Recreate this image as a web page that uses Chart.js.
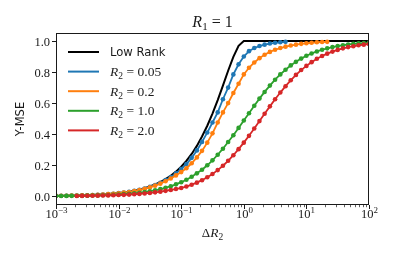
<!DOCTYPE html>
<html><head><meta charset="utf-8">
<script src="https://cdn.jsdelivr.net/npm/chart.js@4.4.1/dist/chart.umd.min.js"></script>
<style>html,body{margin:0;padding:0;background:#fff}#wrap{width:394px;height:256px;position:relative}</style>
</head><body><div id="wrap"><canvas id="c"></canvas></div>
<script>
const deltaR2 = [0.001,0.00121,0.00147,0.00178,0.00215,0.00261,0.00316,0.00383,0.00464,0.00562,0.00681,0.00825,
0.01,0.0121,0.0147,0.0178,0.0215,0.0261,0.0316,0.0383,0.0464,0.0562,0.0681,0.0825,
0.1,0.121,0.147,0.178,0.215,0.261,0.316,0.383,0.464,0.562,0.681,0.825,
1,1.21,1.47,1.78,2.15,2.61,3.16,3.83,4.64,5.62,6.81,8.25,
10,12.1,14.7,17.8,21.5,26.1,31.6,38.3,46.4,56.2,68.1,82.5,100];

const lowRank = [0.002,0.0024,0.0029,0.0036,0.0043,0.0052,0.0063,0.0076,0.0093,0.0112,0.0136,0.0164,
0.0199,0.024,0.029,0.0353,0.0426,0.0515,0.0622,0.0751,0.0907,0.1093,0.1316,0.1582,
0.19,0.2277,0.2721,0.324,0.3844,0.4539,0.5324,0.6194,0.7129,0.8084,0.8984,0.9695,
1,1,1,1,1,1,1,1,1,1,1,1,
1,1,1,1,1,1,1,1,1,1,1,1,1];

const r2_005 = [0.002,0.0024,0.0029,0.0035,0.0042,0.0051,0.0062,0.0075,0.009,0.011,0.0133,0.016,
0.0194,0.0234,0.0283,0.0342,0.0412,0.0497,0.0598,0.0718,0.0862,0.1032,0.1233,0.147,
0.175,0.207,0.247,0.295,0.35,0.41,0.475,0.54,0.625,0.7,0.785,0.85,
0.9,0.935,0.955,0.968,0.977,0.984,0.989,0.992,0.995,null,null,null,
null,null,null,null,null,null,null,null,null,null,null,null,null];

const r2_02 = [0.0019,0.0023,0.0028,0.0034,0.0041,0.0049,0.006,0.0072,0.0087,0.0106,0.0128,0.0155,
0.0187,0.0225,0.0271,0.0327,0.0393,0.0472,0.0566,0.0677,0.0808,0.0962,0.114,0.134,
0.155,0.18,0.212,0.25,0.292,0.345,0.405,0.475,0.54,0.6,0.665,0.725,
0.785,0.828,0.862,0.89,0.912,0.93,0.944,0.955,0.964,0.971,0.977,0.982,
0.986,0.989,0.992,0.994,0.995,null,null,null,null,null,null,null,null];

const r2_10 = [0.0011,0.0013,0.0016,0.0019,0.0023,0.0028,0.0034,0.0041,0.005,0.006,0.0073,0.0088,
0.0106,0.0128,0.0154,0.0185,0.0222,0.0266,0.0318,0.0379,0.0451,0.0536,0.064,0.076,
0.09,0.106,0.125,0.147,0.17,0.199,0.231,0.267,0.306,0.349,0.393,0.44,
0.488,0.535,0.583,0.629,0.672,0.713,0.751,0.785,0.815,0.843,0.866,0.887,
0.905,0.92,0.933,0.944,0.953,0.961,0.968,0.973,0.978,0.982,0.985,0.987,0.99];

const r2_20 = [null,null,null,null,0.0015,0.0018,0.0022,0.0027,0.0033,0.004,0.0048,0.0058,
0.007,0.0084,0.0101,0.0121,0.0145,0.0173,0.0206,0.0245,0.029,0.0343,0.04,0.046,
0.053,0.062,0.074,0.087,0.103,0.122,0.143,0.168,0.196,0.228,0.264,0.303,
0.345,0.389,0.436,0.484,0.531,0.579,0.625,0.668,0.709,0.747,0.782,0.813,
0.84,0.864,0.886,0.904,0.919,0.932,0.943,0.953,0.961,0.967,0.973,0.977,0.981];

const xTickValues = [0.001,0.01,0.1,1,10,100];
const xTickExponents = ['\u22123','\u22122','\u22121','0','1','2'];
const yTickValues = [0,0.2,0.4,0.6,0.8,1.0];
const yTickLabels = ['0.0','0.2','0.4','0.6','0.8','1.0'];
const seriesNames = ['Low Rank','0.05','0.2','1.0','2.0'];
const seriesColors = ['#000000','#1f77b4','#ff7f0e','#2ca02c','#d62728'];
const seriesValues = [lowRank, r2_005, r2_02, r2_10, r2_20];

const SERIF = '"Liberation Serif", "DejaVu Serif", serif';
const SANS = '"DejaVu Sans", sans-serif';
const TXT = '#1a1a1a';

function pts(arr){
  const out=[];
  for(let i=0;i<deltaR2.length;i++){ if(arr[i]!==null) out.push({x:deltaR2[i], y:arr[i]}); }
  return out;
}

const datasets = seriesValues.map((arr,i)=>({
  label: seriesNames[i],
  data: pts(arr),
  borderColor: seriesColors[i],
  backgroundColor: seriesColors[i],
  borderWidth: i===0 ? 2 : 1.8,
  pointRadius: i===0 ? 0 : 2.3,
  pointBorderWidth: 0,
  pointBackgroundColor: seriesColors[i],
  pointHoverRadius: 0,
  tension: 0,
  order: 5 - i
}));

function drawRuns(ctx, runs, x, y, align){
  let w=0;
  runs.forEach(r=>{ctx.font=r.font; w+=ctx.measureText(r.t).width + (r.pad||0)*2;});
  let cx = align==='center' ? x - w/2 : (align==='right' ? x - w : x);
  ctx.textAlign='left';
  ctx.textBaseline='alphabetic';
  runs.forEach(r=>{ctx.font=r.font; cx += (r.pad||0); ctx.fillText(r.t, cx, y + (r.dy||0)); cx += ctx.measureText(r.t).width + (r.pad||0);});
}

const decor = {
  id:'decor',
  afterDraw(chart){
    const ctx = chart.ctx, a = chart.chartArea;
    const xs = chart.scales.x, ys = chart.scales.y;
    ctx.save();
    ctx.fillStyle = TXT; ctx.strokeStyle = TXT;
    // frame
    ctx.lineWidth = 1;
    ctx.strokeRect(Math.round(a.left)+0.5, Math.round(a.top)+0.5, Math.round(a.right-a.left)-1, Math.round(a.bottom-a.top)-1);
    // x major ticks + labels
    xTickValues.forEach((v,i)=>{
      const px = Math.round(xs.getPixelForValue(v))+0.5;
      ctx.beginPath(); ctx.moveTo(px, a.bottom); ctx.lineTo(px, a.bottom+4); ctx.stroke();
      drawRuns(ctx,[{t:'10',font:'12.5px '+SERIF},{t:xTickExponents[i],font:'9px '+SERIF,dy:-5}], px, a.bottom+12.5, 'center');
    });
    // x minor ticks
    ctx.lineWidth = 0.7;
    for(let k=-3;k<2;k++){
      for(let m=2;m<10;m++){
        const px = Math.round(xs.getPixelForValue(m*Math.pow(10,k)))+0.5;
        ctx.beginPath(); ctx.moveTo(px, a.bottom); ctx.lineTo(px, a.bottom+2.2); ctx.stroke();
      }
    }
    // y ticks + labels
    ctx.lineWidth = 1;
    yTickValues.forEach((v,i)=>{
      const py = Math.round(ys.getPixelForValue(v))+0.5;
      ctx.beginPath(); ctx.moveTo(a.left, py); ctx.lineTo(a.left-4, py); ctx.stroke();
      drawRuns(ctx,[{t:yTickLabels[i],font:'12.5px '+SERIF}], a.left-6, py+4, 'right');
    });
    // axis titles
    drawRuns(ctx,[{t:'\u0394',font:'13px '+SERIF},{t:'R',font:'italic 13.5px '+SERIF},{t:'2',font:'9.5px '+SERIF,dy:3}], (a.left+a.right)/2, 236.5, 'center');
    ctx.save();
    ctx.translate(24, (a.top+a.bottom)/2);
    ctx.rotate(-Math.PI/2);
    drawRuns(ctx,[{t:'Y-MSE',font:'11.5px '+SANS}], 0, 0, 'center');
    ctx.restore();
    // title
    drawRuns(ctx,[{t:'R',font:'italic 16px '+SERIF},{t:'1',font:'11px '+SERIF,dy:3},{t:'=',font:'16px '+SERIF,pad:4},{t:'1',font:'16px '+SERIF}], (a.left+a.right)/2, 26.5, 'center');
    // legend
    seriesNames.forEach((n,i)=>{
      const ly = 52 + i*19.6;
      ctx.strokeStyle = seriesColors[i]; ctx.lineWidth = 2;
      ctx.beginPath(); ctx.moveTo(68, ly); ctx.lineTo(99, ly); ctx.stroke();
      ctx.fillStyle = TXT;
      if(i===0){
        drawRuns(ctx,[{t:n,font:'11.6px '+SANS}],110,ly+4.2,'left');
      } else {
        drawRuns(ctx,[{t:'R',font:'italic 13.5px '+SERIF},{t:'2',font:'9.5px '+SERIF,dy:3},{t:'=',font:'13.5px '+SERIF,pad:3.5},{t:n,font:'13.5px '+SERIF}],110,ly+4.5,'left');
      }
    });
    ctx.restore();
  }
};

new Chart(document.getElementById('c'),{
  type:'line',
  data:{datasets},
  options:{
    responsive:true, maintainAspectRatio:false, animation:false,
    devicePixelRatio:1,
    layout:{padding:{left:56,right:25,top:33,bottom:51}},
    plugins:{legend:{display:false},title:{display:false},tooltip:{enabled:false}},
    events:[],
    scales:{
      x:{type:'logarithmic',min:0.001,max:100,display:false},
      y:{type:'linear',min:-0.057,max:1.052,display:false}
    }
  },
  plugins:[decor]
});
</script>
</body></html>
